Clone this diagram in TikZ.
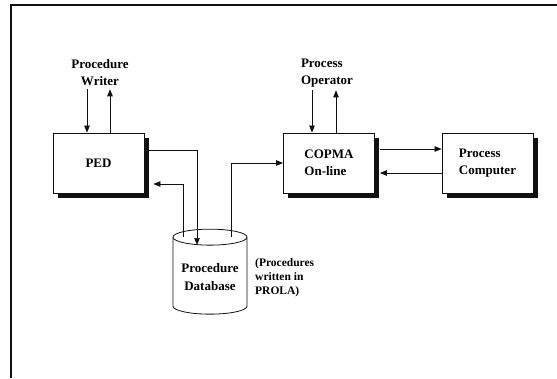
\documentclass[tikz,border=0pt]{standalone}
\usepackage{fontspec}
\setmainfont{Liberation Serif}
\usepackage{xcolor}
\definecolor{cMain}{HTML}{111111}
\usepackage{tikz}
\usetikzlibrary{positioning,arrows.meta,shapes.geometric,shadows,calc}
\tikzset{
  node-box/.style={draw=cMain,line width=0.8pt,fill=white,
    minimum width=91pt,minimum height=60pt,align=left,
    font=\bfseries\fontsize{13}{17}\selectfont,
    drop shadow={shadow xshift=4.5pt,shadow yshift=-4.5pt,fill=cMain,opacity=1}},
  node-db/.style={draw=cMain,line width=0.8pt,fill=white,cylinder,
    shape border rotate=90,aspect=0.25,minimum width=74pt,minimum height=85pt,
    align=center,font=\bfseries\fontsize{13}{18}\selectfont},
  node-label/.style={align=left,inner sep=3pt,
    font=\bfseries\fontsize{13}{17}\selectfont},
  node-note/.style={align=left,inner sep=1pt,
    font=\bfseries\fontsize{11.5}{14}\selectfont},
  arrow/.style={-{Triangle[length=7pt,width=5.5pt]},line width=0.7pt,draw=cMain},
}

\begin{document}
\begin{tikzpicture}[x=1pt,y=-1pt]
  \useasboundingbox (0,0) rectangle (557,378);
  \draw[line width=1.2pt,cMain] (11,378) -- (11,5) -- (557,5);

  \node[node-box,align=center] (ped) at (98.5,163) {PED};
  \node[node-box] (copma) at (329,163) {COPMA\\On-line};
  \node[node-box] (pc) at (487.5,163) {Process\\Computer};
  \node[node-db] (db) at (210,277.5) {Procedure\\Database};
  \node[node-label,align=center] (writer) at (100,73) {Procedure\\Writer};
  \node[node-label] (operator) at (327,73) {Process\\Operator};
  \node[node-note,anchor=west] (note) at (254,278) {(Procedures\\written in\\PROLA)};

  % users
  \coordinate (wd) at ($(ped.north)+(-11.5,0)$);
  \coordinate (wu) at ($(ped.north)+(11.5,0)$);
  \coordinate (od) at ($(copma.north)+(-17,0)$);
  \coordinate (ou) at ($(copma.north)+(7,0)$);
  \draw[arrow] (wd |- writer.south) -- (wd);
  \draw[arrow] (wu) -- (wu |- writer.south);
  \draw[arrow] (od |- operator.south) -- (od);
  \draw[arrow] (ou) -- (ou |- operator.south);

  % database links
  \draw[arrow] ($(ped.east)+(5,-13)$) -| ($(db.center)+(-13,-32.5)$);
  \draw[arrow] ($(db.center)+(-27,-40.5)$) |- ($(ped.east)+(9,21)$);
  \draw[arrow] ($(db.center)+(21,-40.5)$) |- (copma.west);

  % process computer
  \draw[arrow] ($(copma.east)+(5,-14)$) -- ($(pc.west)+(0,-14)$);
  \draw[arrow] ($(pc.west)+(0,10)$) -- ($(copma.east)+(5,10)$);
\end{tikzpicture}
\end{document}
